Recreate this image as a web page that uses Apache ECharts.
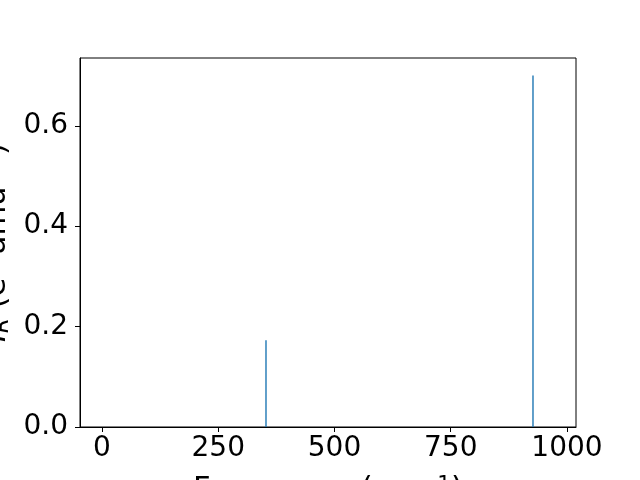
<!DOCTYPE html>
<html>
<head>
<meta charset="utf-8">
<script src="https://cdn.jsdelivr.net/npm/echarts@6/dist/echarts.min.js"></script>
<style>html,body{margin:0;padding:0;background:#fff}#c{width:640px;height:480px}</style>
</head>
<body>
<div id="c"></div>
<script>
var frequencies = [352.7, 926.9];
var intensities = [0.173, 0.700];
var xTicks = [0, 250, 500, 750, 1000];
var yTicks = [0.0, 0.2, 0.4, 0.6];

var font = 'DejaVu Sans';
var series = frequencies.map(function (f, i) {
  return {
    type: 'line',
    data: [[f, 0], [f, intensities[i]]],
    symbol: 'none',
    lineStyle: { color: '#1f77b4', width: 1.4 },
    silent: true,
    animation: false
  };
});

var nameSize = 30.6, supSize = 21.4;
var chart = echarts.init(document.getElementById('c'), null, { renderer: 'canvas' });
chart.setOption({
  animation: false,
  grid: { left: 80, right: 64, top: 58, bottom: 53, show: true, borderColor: '#000', borderWidth: 1,
    backgroundColor: 'transparent', containLabel: false, outerBoundsMode: 'none' },
  xAxis: {
    type: 'value', min: -47.3, max: 1019.4,
    axisLine: { show: true, onZero: false, lineStyle: { color: '#000', width: 1 } },
    axisTick: { show: true, length: 5, customValues: xTicks, lineStyle: { color: '#000', width: 1 } },
    axisLabel: { customValues: xTicks, fontFamily: font, fontSize: 28, color: '#000', margin: 8,
      formatter: function (v) { return String(v); } },
    splitLine: { show: false },
    name: '{t|Frequency (cm}{s|−1}{t|)}',
    nameLocation: 'middle', nameGap: 48,
    nameTextStyle: { fontFamily: font, fontSize: nameSize, color: '#000', verticalAlign: 'top',
      rich: { t: { fontFamily: font, fontSize: nameSize, color: '#000' },
              s: { fontFamily: font, fontSize: supSize, color: '#000', verticalAlign: 'top' } } }
  },
  yAxis: {
    type: 'value', min: 0, max: 0.735,
    axisLine: { show: true, onZero: false, lineStyle: { color: '#000', width: 1 } },
    axisTick: { show: true, length: 5, customValues: yTicks, lineStyle: { color: '#000', width: 1 } },
    axisLabel: { customValues: yTicks, fontFamily: font, fontSize: 28, color: '#000', margin: 12,
      formatter: function (v) { return v.toFixed(1); } },
    splitLine: { show: false },
    name: '{i|I}{b|R}{t| (e}{s|2}{t| amu}{s|−1}{t|)}',
    nameLocation: 'middle', nameGap: 55, nameRotate: 90,
    nameTextStyle: { fontFamily: font, fontSize: nameSize, color: '#000',
      rich: {
        i: { fontFamily: font, fontSize: nameSize, color: '#000', fontStyle: 'italic' },
        t: { fontFamily: font, fontSize: nameSize, color: '#000' },
        b: { fontFamily: font, fontSize: supSize, color: '#000', fontStyle: 'italic', verticalAlign: 'bottom' },
        s: { fontFamily: font, fontSize: supSize, color: '#000', verticalAlign: 'top' }
      } }
  },
  series: series
});
</script>
</body>
</html>
